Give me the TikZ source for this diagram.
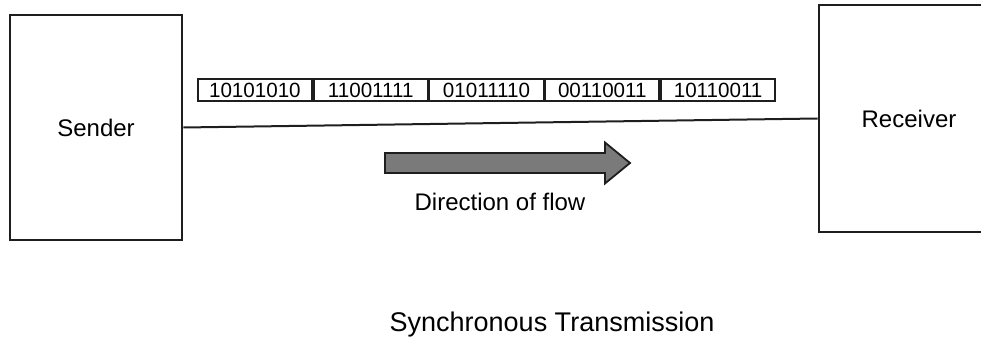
\documentclass[tikz,border=0pt]{standalone}
\usepackage{fontspec}
\setmainfont{Liberation Sans}
\usepackage{xcolor}
\usetikzlibrary{positioning,calc}
\definecolor{syncink}{HTML}{1E1E1E}
\definecolor{syncflow}{HTML}{7A7A7A}

\begin{document}
\begin{tikzpicture}[
  x=0.5pt,y=-0.5pt,
  station/.style={draw=syncink,line width=1.4pt,fill=white,align=center,
                  inner sep=0pt,font=\fontsize{12}{14}\selectfont},
  frame/.style={draw=syncink,line width=0.9pt,inner sep=0pt,minimum width=57pt,
                minimum height=11pt,font=\fontsize{10.3}{12}\selectfont},
  wire/.style={syncink,line width=1pt},
  lbl/.style={inner sep=0pt,font=\fontsize{12}{14}\selectfont}
]
\useasboundingbox (0,0) rectangle (981,342);

% the two end stations
\node[station,minimum width=86pt,minimum height=112.5pt] (sender) at (96,127.5) {Sender};
\node[station,minimum width=90pt,minimum height=113.5pt] (receiver) at (909,118.5) {Receiver};

\draw[wire] (sender.east) -- (receiver.west);

% the stream of bytes above the line
\node[frame,anchor=west] (b1) at (197,90) {10101010};
\node[frame,right=0pt of b1] (b2) {11001111};
\node[frame,right=0pt of b2] (b3) {01011110};
\node[frame,right=0pt of b3] (b4) {00110011};
\node[frame,right=0pt of b4] (b5) {10110011};

% fat arrow showing the direction
\coordinate (flowtail) at (385,163);
\filldraw[draw=syncink,fill=syncflow,line width=0.9pt]
  ($(flowtail)+(0,-10)$) -- ++(220,0) -- ++(0,-10.5) -- ++(25,20.5)
  -- ++(-25,20.5) -- ++(0,-10.5) -- ++(-220,0) -- cycle;
\node[lbl] (flowlbl) at (500,201.5) {Direction of flow};

\node[lbl,font=\fontsize{13.5}{16}\selectfont] (title) at (552,325) {Synchronous Transmission};
\end{tikzpicture}
\end{document}
